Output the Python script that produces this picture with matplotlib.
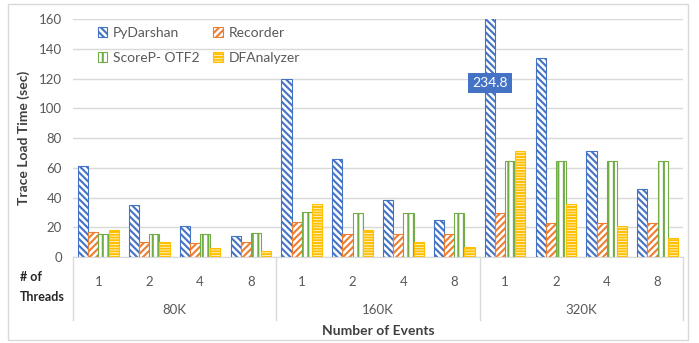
import numpy as np
import matplotlib
matplotlib.use("Agg")
import matplotlib.pyplot as plt
from matplotlib.lines import Line2D
from matplotlib.patches import Rectangle

plt.rcParams['font.family'] = ['Lato', 'DejaVu Sans']
plt.rcParams['hatch.linewidth'] = 1.5

groups = ['80K', '160K', '320K']
threads = ['1', '2', '4', '8']
tools = ['PyDarshan', 'Recorder', 'ScoreP- OTF2', 'DFAnalyzer']
colors = ['#4472C4', '#ED7D31', '#70AD47', '#FFC000']
hatches = ['\\\\\\\\\\', '/////', '|||', '------']

# 12 categories: 80K x (1,2,4,8), 160K x ..., 320K x ...
pydarshan = [61, 34.7, 21, 13.9, 120, 66, 38, 25.2, 234.8, 134, 71, 45.4]
recorder = [16.8, 9.8, 9.7, 9.8, 23.5, 15.4, 15.3, 15.3, 29.5, 23, 23, 23]
scorep = [15.6, 15.4, 15.4, 15.9, 30, 29.3, 29.5, 29.5, 64.3, 64.3, 64.3, 64.3]
dfanalyzer = [18, 9.8, 6, 4, 35.6, 18, 10, 6.5, 71, 35.5, 20.8, 12.5]
series = [pydarshan, recorder, scorep, dfanalyzer]

fig = plt.figure(figsize=(6.99, 3.43), dpi=100)
ax = fig.add_axes([0.1044, 0.2507, 0.8726, 0.6939])

n = len(groups) * len(threads)
x = np.arange(n)
w = 0.2
bars = []
for i, (vals, c, h, name) in enumerate(zip(series, colors, hatches, tools)):
    bars.append(ax.bar(x + (i - 1.5) * w, vals, w, facecolor='white', edgecolor=c,
                       hatch=h, linewidth=0.8, label=name))

ax.set_ylim(0, 160)
ax.set_xlim(-0.5, n - 0.5)
ax.set_yticks(range(0, 161, 20))
ax.yaxis.grid(True, color='#D9D9D9', linewidth=1)
ax.set_axisbelow(True)
for s in ['top', 'right', 'left']:
    ax.spines[s].set_visible(False)
ax.spines['bottom'].set_color('#D9D9D9')
ax.tick_params(axis='y', length=0, labelsize=9.5, colors='#595959', pad=8)
ax.tick_params(axis='x', length=0, labelsize=9.5, colors='#595959', pad=14)
ax.set_xticks(x)
ax.set_xticklabels(threads * len(groups))
ax.set_ylabel('Trace Load Time (sec)', fontsize=10, fontweight='bold',
              color='#404040', labelpad=6)

# value label for the clipped bar
imax = int(np.argmax(pydarshan))
ax.text(imax - 1.5 * w, 117, f'{pydarshan[imax]:.1f}', color='white', fontsize=10,
        ha='center', va='center',
        bbox=dict(boxstyle='square,pad=0.3', facecolor='#4472C4', edgecolor='none'))

# group labels and separators
trans = ax.get_xaxis_transform()
for g, name in enumerate(groups):
    ax.text(g * 4 + 1.5, -0.223, name, transform=trans, ha='center', va='center',
            fontsize=9.5, color='#595959')
for b in range(len(groups) + 1):
    ax.add_line(Line2D([b * 4 - 0.5] * 2, [0, -0.265], transform=trans,
                       color='#D9D9D9', linewidth=1, clip_on=False))

ax.text(0.5, -0.31, 'Number of Events', transform=ax.transAxes, ha='center',
        va='center', fontsize=10, fontweight='bold', color='#404040')
fig.text(20 / 699, 1 - 277 / 343, '# of', ha='left', va='center', fontsize=9,
         fontweight='bold', color='#262626')
fig.text(20 / 699, 1 - 297 / 343, 'Threads', ha='left', va='center', fontsize=9,
         fontweight='bold', color='#262626')

# legend filled row by row: PyDarshan, Recorder / ScoreP, DFAnalyzer
order = [0, 2, 1, 3]
leg = ax.legend([bars[k] for k in order], [tools[k] for k in order],
                loc='upper left', bbox_to_anchor=(0.02, 1.02), ncol=2, frameon=False,
                fontsize=10, handlelength=0.7, handleheight=0.7, handletextpad=0.4,
                columnspacing=1.0, labelspacing=0.95, labelcolor='#595959')

fig.patches.append(Rectangle((8 / 699, 3 / 343), 680 / 699, 336 / 343,
                             transform=fig.transFigure, fill=False,
                             edgecolor='#D9D9D9', linewidth=1))

fig.savefig('out.png', dpi=100)
